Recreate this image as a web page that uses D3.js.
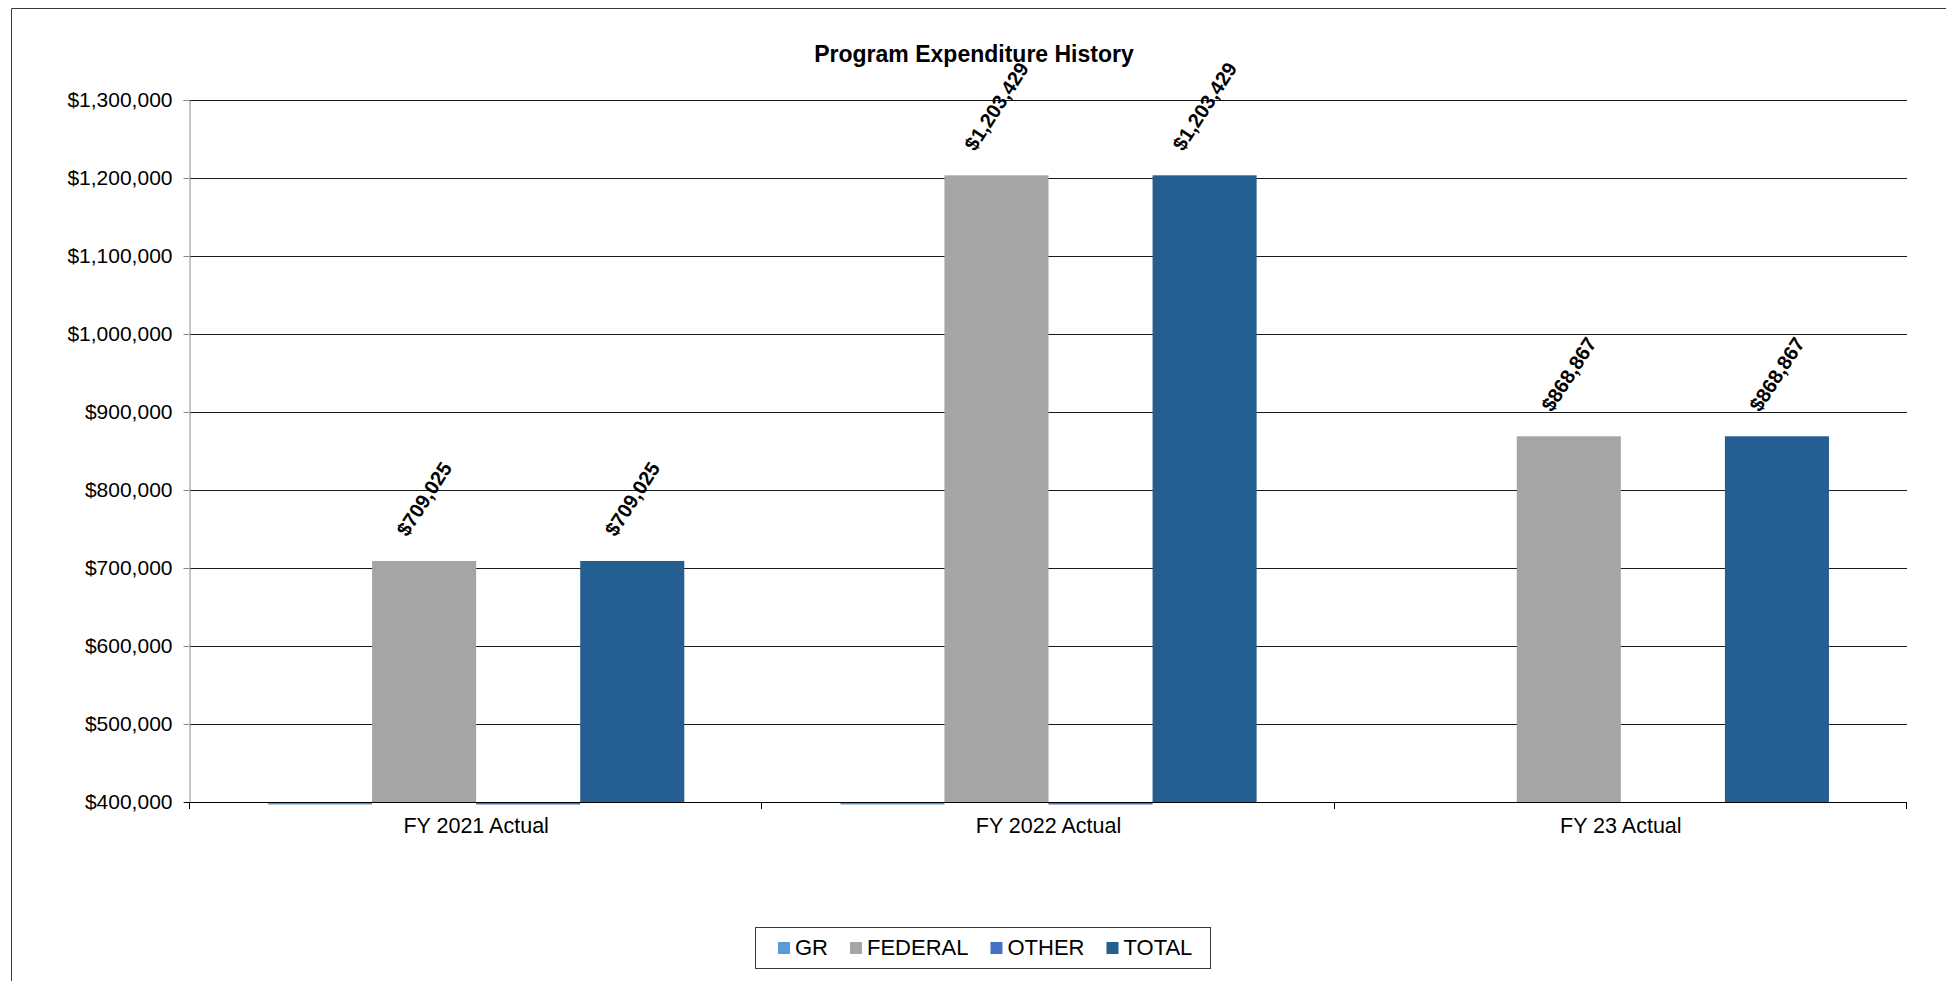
<!DOCTYPE html>
<html>
<head>
<meta charset="utf-8">
<script src="https://cdn.jsdelivr.net/npm/d3@7"></script>
<style>
  html, body { margin: 0; padding: 0; background: #fff; overflow: hidden; width: 1946px; height: 981px; }
  #chart { position: absolute; left: 0; top: 0; }
  svg { display: block; }
  text { font-family: "Liberation Sans", Arial, sans-serif; fill: #000; }
</style>
</head>
<body>
<div id="chart"></div>
<script>
const categories = ["FY 2021 Actual", "FY 2022 Actual", "FY 23 Actual"];
const seriesNames = ["GR", "FEDERAL", "OTHER", "TOTAL"];
const seriesColors = ["#5B9BD5", "#A5A5A5", "#4472C4", "#255E91"];
const grValues = [0, 0, null];
const federalValues = [709025, 1203429, 868867];
const otherValues = [0, 0, null];
const totalValues = [709025, 1203429, 868867];
const yTickValues = [400000, 500000, 600000, 700000, 800000, 900000, 1000000, 1100000, 1200000, 1300000];

const width = 1946, height = 981;
const plot = { left: 190, right: 1907, top: 100, bottom: 802 };

const svg = d3.select("#chart").append("svg")
    .attr("width", width)
    .attr("height", height);

svg.append("rect")
    .attr("width", width).attr("height", height)
    .attr("fill", "#fff");

// outer chart border: only top and left edges are inside the picture
svg.append("path")
    .attr("d", `M11.5,${height} V8.5 H${width}`)
    .attr("fill", "none")
    .attr("stroke", "#3a3a3a")
    .attr("stroke-width", 1);

svg.append("text")
    .attr("x", 974).attr("y", 62)
    .attr("text-anchor", "middle")
    .style("font-size", "23px")
    .style("font-weight", "bold")
    .text("Program Expenditure History");

const y = d3.scaleLinear()
    .domain([yTickValues[0], yTickValues[yTickValues.length - 1]])
    .range([plot.bottom, plot.top]);

const x0 = d3.scaleBand()
    .domain(categories)
    .range([plot.left, plot.right]);

// Excel style gap width 150%
const gap = x0.step() * 0.75 / 5.5;
const x1 = d3.scaleBand()
    .domain(seriesNames)
    .range([gap, x0.step() - gap]);

const color = d3.scaleOrdinal().domain(seriesNames).range(seriesColors);

// gridlines
svg.append("g")
    .selectAll("line")
    .data(yTickValues.slice(1))
    .enter()
    .append("line")
    .attr("x1", plot.left).attr("x2", plot.right)
    .attr("y1", d => Math.round(y(d)) + 0.5)
    .attr("y2", d => Math.round(y(d)) + 0.5)
    .attr("stroke", "#1a1a1a")
    .attr("stroke-width", 1);

// y axis
const yAxis = svg.append("g")
    .attr("transform", `translate(${plot.left - 0.5},0)`)
    .call(d3.axisLeft(y)
        .tickValues(yTickValues)
        .tickFormat(d3.format("$,"))
        .tickSize(6)
        .tickPadding(11));
yAxis.select(".domain").attr("stroke", "#8a8a8a");
yAxis.selectAll(".tick line").attr("stroke", "#8a8a8a");
yAxis.selectAll("text").style("font-size", "21px");

// bars
const rows = categories.map((c, i) => ({
    category: c,
    values: [grValues[i], federalValues[i], otherValues[i], totalValues[i]]
        .map((v, j) => ({ key: seriesNames[j], value: v }))
}));

const groups = svg.append("g")
    .selectAll("g")
    .data(rows)
    .enter()
    .append("g")
    .attr("transform", d => `translate(${x0(d.category)},0)`);

groups.selectAll("rect")
    .data(d => d.values.filter(v => v.value !== null))
    .enter()
    .append("rect")
    .attr("x", d => x1(d.key))
    .attr("width", x1.bandwidth())
    .attr("y", d => d.value > y.domain()[0] ? y(d.value) : plot.bottom + 0.5)
    .attr("height", d => d.value > y.domain()[0] ? plot.bottom - y(d.value) : 2)
    .attr("fill", d => color(d.key));

// data labels, rotated
const angle = -57;
groups.selectAll("text.label")
    .data(d => d.values.filter(v => v.value !== null && v.value > y.domain()[0]))
    .enter()
    .append("text")
    .attr("class", "label")
    .style("font-size", "20px")
    .style("font-weight", "bold")
    .attr("text-anchor", "middle")
    .attr("dominant-baseline", "central")
    .text(d => d3.format("$,")(d.value))
    .each(function(d) {
        const len = this.getComputedTextLength();
        const cx = x1(d.key) + x1.bandwidth() / 2;
        const cy = y(d.value) - 27 - (len / 2) * Math.sin(-angle * Math.PI / 180);
        d3.select(this).attr("transform", `translate(${cx},${cy}) rotate(${angle})`);
    });

// x axis baseline and category ticks
svg.append("line")
    .attr("x1", plot.left - 6).attr("x2", plot.right)
    .attr("y1", plot.bottom + 0.5).attr("y2", plot.bottom + 0.5)
    .attr("stroke", "#000");

const boundaries = categories.map(c => x0(c)).concat([plot.right]);
svg.append("g")
    .selectAll("line")
    .data(boundaries)
    .enter()
    .append("line")
    .attr("x1", d => Math.round(d) - 0.5).attr("x2", d => Math.round(d) - 0.5)
    .attr("y1", plot.bottom).attr("y2", plot.bottom + 7)
    .attr("stroke", "#000");

svg.append("g")
    .selectAll("text")
    .data(categories)
    .enter()
    .append("text")
    .attr("x", d => x0(d) + x0.bandwidth() / 2)
    .attr("y", 833)
    .attr("text-anchor", "middle")
    .style("font-size", "21.5px")
    .text(d => d);

// legend
const legend = svg.append("g");
legend.append("rect")
    .attr("x", 755.5).attr("y", 927.5)
    .attr("width", 455).attr("height", 41)
    .attr("fill", "#fff")
    .attr("stroke", "#3a3a3a");

let lx = 778;
seriesNames.forEach(name => {
    legend.append("rect")
        .attr("x", lx).attr("y", 942)
        .attr("width", 12).attr("height", 12)
        .attr("fill", color(name));
    const t = legend.append("text")
        .attr("x", lx + 17).attr("y", 955)
        .style("font-size", "22px")
        .text(name);
    lx += 17 + t.node().getComputedTextLength() + 22;
});
</script>
</body>
</html>
